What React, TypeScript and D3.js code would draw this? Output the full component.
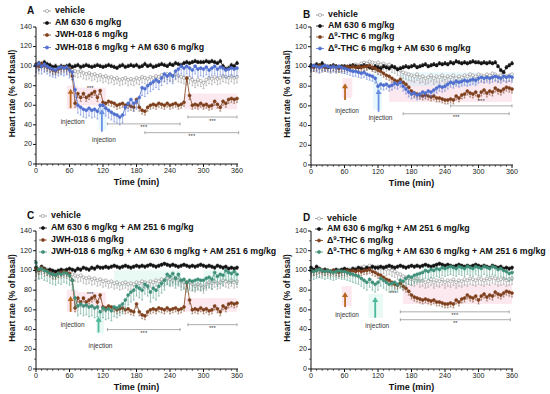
import React from 'react';
import * as d3 from 'd3';

// sampling times (min), one point every 5 min
const TIMES = d3.range(0, 365, 5);

// heart rate, % of basal
const vehicleJwh = [
  100, 98, 102, 100, 101, 99, 97, 98, 99, 98, 99, 98,
  97, 96, 95, 94, 95, 93, 92, 93, 91, 92, 90, 91,
  89, 90, 88, 89, 87, 88, 86, 87, 88, 86, 87, 86,
  88, 87, 89, 88, 87, 89, 88, 90, 89, 91, 90, 92,
  91, 90, 92, 90, 89, 88, 87, 88, 86, 84, 86, 85,
  83, 86, 88, 87, 89, 87, 88, 90, 89, 88, 90, 88,
  89,
];
const vehicleThc = [
  100, 101, 100, 99, 100, 101, 100, 99, 100, 99, 100, 99,
  99, 100, 101, 100, 102, 101, 103, 104, 103, 105, 104, 103,
  104, 102, 103, 101, 102, 100, 99, 97, 96, 94, 93, 92,
  91, 90, 92, 89, 90, 88, 89, 91, 88, 90, 89, 91,
  88, 90, 89, 91, 88, 90, 89, 91, 90, 92, 91, 90,
  92, 91, 90, 92, 91, 93, 92, 90, 91, 92, 90, 91,
  92,
];
const am630A = [
  101, 103, 100, 104, 102, 101, 99, 100, 98, 100, 99, 100,
  101, 99, 100, 101, 99, 100, 101, 100, 99, 100, 101, 100,
  99, 100, 101, 100, 99, 98, 100, 101, 99, 100, 101, 100,
  101, 99, 100, 102, 100, 101, 99, 100, 101, 102, 101, 100,
  102, 101, 103, 102, 101, 103, 104, 103, 104, 105, 104, 104,
  104, 105, 104, 105, 104, 103, 105, 100, 97, 98, 101, 100,
  103,
];
const am630B = [
  101, 100, 102, 101, 103, 100, 99, 100, 101, 100, 99, 100,
  100, 99, 100, 101, 100, 99, 100, 101, 100, 99, 98, 100,
  99, 98, 100, 99, 98, 100, 99, 97, 98, 99, 100, 99,
  100, 101, 99, 100, 101, 102, 100, 101, 102, 101, 103, 102,
  103, 102, 104, 103, 105, 104, 103, 104, 103, 104, 105, 104,
  104, 103, 104, 103, 104, 103, 104, 100, 96, 94, 99, 101,
  103,
];
const am630Am251 = [
  103, 101, 104, 102, 100, 101, 100, 99, 100, 101, 100, 101,
  102, 101, 100, 102, 101, 103, 102, 101, 103, 102, 104, 103,
  103, 104, 103, 104, 105, 104, 103, 104, 105, 104, 103, 104,
  105, 104, 105, 104, 105, 106, 105, 104, 105, 106, 107, 106,
  105, 106, 105, 104, 105, 106, 105, 104, 105, 104, 105, 106,
  105, 104, 105, 104, 103, 105, 104, 103, 104, 102, 103, 102,
  103,
];
const jwh018 = [
  102, 100, 103, 101, 99, 98, 96, 95, 97, 98, 99, 98,
  97, 90, 62, 72, 68, 72, 68, 70, 72, 74, 68, 75,
  63, 62, 64, 63, 62, 60, 61, 62, 60, 61, 59, 58,
  66, 58, 55, 54, 58, 60, 61, 60, 62, 61, 60, 62,
  60, 61, 62, 60, 61, 63, 88, 70, 60, 61, 60, 62,
  60, 61, 59, 60, 64, 61, 58, 64, 62, 66, 67, 66,
  67,
];
const thc = [
  100, 99, 100, 101, 100, 99, 100, 99, 100, 99, 98, 99,
  99, 100, 99, 100, 99, 100, 99, 100, 100, 101, 99, 98,
  96, 95, 93, 91, 90, 88, 86, 85, 87, 84, 82, 79,
  75, 73, 72, 71, 70, 71, 70, 69, 70, 68, 68, 67,
  66, 66, 67, 66, 70, 68, 71, 72, 75, 73, 72, 74,
  70, 74, 76, 73, 75, 74, 78, 76, 75, 77, 79, 78,
  77,
];
const jwhAm630 = [
  101, 103, 100, 102, 100, 98, 97, 96, 98, 99, 98, 99,
  96, 94, 76, 60, 58, 56, 55, 57, 55, 56, 54, 60,
  60, 57, 55, 53, 51, 50, 48, 50, 58, 62, 66, 62,
  64, 68, 78, 77, 80, 82, 84, 86, 84, 88, 92, 90,
  92, 90, 95, 97, 100, 98, 100, 98, 96, 100, 97, 98,
  97, 99, 96, 98, 100, 97, 99, 98, 96, 97, 98, 97,
  98,
];
const thcAm630 = [
  100, 101, 100, 99, 100, 101, 100, 99, 100, 99, 100, 99,
  98, 97, 96, 95, 95, 94, 93, 94, 92, 91, 90, 88,
  80, 82, 81, 82, 80, 81, 83, 82, 84, 80, 77, 74,
  72, 73, 71, 72, 74, 73, 75, 74, 76, 78, 80, 79,
  80, 82, 84, 83, 85, 84, 85, 86, 85, 86, 87, 86,
  88, 89, 88, 89, 88, 89, 90, 89, 88, 90, 89, 90,
  89,
];
const jwhAm630Am251 = [
  108, 101, 102, 100, 99, 97, 96, 95, 97, 96, 98, 97,
  95, 90, 72, 64, 66, 64, 65, 63, 64, 62, 63, 58,
  62, 60, 61, 59, 63, 62, 64, 66, 70, 75, 78, 80,
  84, 82, 80, 86, 84, 78, 82, 80, 84, 87, 90, 96,
  94, 97, 92, 96, 90, 91, 88, 90, 89, 90, 91, 90,
  90, 92, 93, 91, 98, 94, 96, 95, 100, 98, 97, 99,
  96,
];
const thcAm630Am251 = [
  100, 99, 100, 101, 100, 99, 100, 99, 98, 99, 100, 99,
  99, 98, 97, 96, 95, 94, 92, 90, 88, 91, 88, 86,
  88, 92, 90, 88, 86, 87, 88, 86, 90, 89, 92, 94,
  93, 95, 96, 97, 98, 100, 99, 101, 100, 102, 101, 103,
  102, 103, 104, 103, 102, 104, 103, 102, 104, 103, 102, 104,
  103, 102, 104, 103, 102, 104, 103, 101, 102, 100, 99, 97,
  98,
];

// SEM per series (one-sided bars)
const semVehicle = 6;
const semAntagonist = 2;
const semAgonist = 4;
const semCombo = 8;

const yTicks = [0, 20, 40, 60, 80, 100, 120, 140];
const xTicks = [0, 60, 120, 180, 240, 300, 360];

const C = {
  vehicle: '#8a8a8a',
  black: '#111111',
  brown: '#7d3f1c',
  blue: '#4f6fd0',
  teal: '#3f907a',
  orangeArrow: '#b8661f',
  blueArrow: '#6a90e4',
  tealArrow: '#4db89c',
  pink: '#f6c6d6',
  cyan: '#c6ecf6',
  mint: '#c4eee2',
};

const panels = [
  {
    letter: 'A', x0: 36, x1: 237, yb: 164, yt: 27, letterX: 27, textX: 55, markX: 47,
    legendY: [11, 23, 35, 47.5],
    series: [
      { name: 'vehicle', data: vehicleJwh, color: C.vehicle, open: true, sem: semVehicle, dir: -1 },
      { name: 'AM 630 6 mg/kg', data: am630A, color: C.black, sem: semAntagonist, dir: 1 },
      { name: 'JWH-018 6 mg/kg', data: jwh018, color: C.brown, sem: semAgonist, dir: -1 },
      { name: 'JWH-018 6 mg/kg + AM 630 6 mg/kg', data: jwhAm630, color: C.blue, sem: semCombo, dir: -1 },
    ],
    shades: [[55, 75, 56, 80, C.pink], [75, 125, 60, 78, C.pink], [265, 360, 56, 72, C.pink], [112, 126, 35, 60, C.cyan]],
    arrows: [{ t: 62, v0: 57, v1: 77, lv: 43, color: C.orangeArrow }, { t: 118, v0: 33, v1: 56, lv: 24, color: C.blueArrow }],
    bars: [[128, 258, 41, 37, '***'], [195, 363, 32, 28, '***'], [272, 360, 48, 44, '***']],
    stars: [[97, 77, '***']],
  },
  {
    letter: 'B', x0: 311, x1: 512, yb: 165, yt: 27, letterX: 303, textX: 328, markX: 320,
    legendY: [15, 26, 37, 48.5],
    series: [
      { name: 'vehicle', data: vehicleThc, color: C.vehicle, open: true, sem: semVehicle, dir: -1 },
      { name: 'AM 630 6 mg/kg', data: am630B, color: C.black, sem: semAntagonist, dir: 1 },
      { name: '-THC 6 mg/kg', delta: true, data: thc, color: C.brown, sem: semAgonist, dir: -1 },
      { name: '-THC  6 mg/kg + AM 630 6 mg/kg', delta: true, data: thcAm630, color: C.blue, sem: 5, dir: -1 },
    ],
    shades: [[56, 74, 68, 88, C.pink], [140, 360, 64, 86, C.pink], [111, 127, 56, 96, C.cyan], [160, 300, 80, 94, C.cyan]],
    arrows: [{ t: 61, v0: 66, v1: 83, lv: 54, color: C.orangeArrow }, { t: 121, v0: 54, v1: 77, lv: 47, color: C.blueArrow }],
    bars: [[250, 360, 60, 64, '***'], [165, 355, 52, 48, '***']],
    stars: [],
  },
  {
    letter: 'C', x0: 36, x1: 237, yb: 369, yt: 231, letterX: 27, textX: 51, markX: 43,
    legendY: [216, 228, 240, 252],
    series: [
      { name: 'vehicle', data: vehicleJwh, color: C.vehicle, open: true, sem: semVehicle, dir: -1 },
      { name: 'AM 630 6 mg/kg + AM 251 6 mg/kg', data: am630Am251, color: C.black, sem: semAntagonist, dir: -1 },
      { name: 'JWH-018 6 mg/kg', data: jwh018, color: C.brown, sem: semAgonist, dir: -1 },
      { name: 'JWH-018 6 mg/kg + AM 630 6 mg/kg + AM 251 6 mg/kg', data: jwhAm630Am251, color: C.teal, sem: 10, dir: -1 },
    ],
    shades: [[55, 75, 58, 80, C.pink], [75, 125, 62, 78, C.pink], [265, 360, 58, 72, C.pink], [108, 122, 36, 58, C.mint], [140, 260, 84, 100, C.mint], [300, 360, 90, 100, C.mint]],
    arrows: [{ t: 62, v0: 58, v1: 74, lv: 44, color: C.orangeArrow }, { t: 112, v0: 37, v1: 53, lv: 23, color: C.tealArrow }],
    bars: [[128, 258, 40, 36, '***'], [272, 360, 45, 41, '***']],
    stars: [[97, 76, '***']],
  },
  {
    letter: 'D', x0: 311, x1: 512, yb: 369, yt: 231, letterX: 303, textX: 327, markX: 319,
    legendY: [218.5, 229, 240.5, 252],
    series: [
      { name: 'vehicle', data: vehicleThc, color: C.vehicle, open: true, sem: semVehicle, dir: -1 },
      { name: 'AM 630 6 mg/kg + AM 251 6 mg/kg', data: am630Am251, color: C.black, sem: semAntagonist, dir: -1 },
      { name: '-THC 6 mg/kg', delta: true, data: thc, color: C.brown, sem: semAgonist, dir: -1 },
      { name: '-THC  6 mg/kg + AM 630 6 mg/kg + AM 251 6 mg/kg', delta: true, data: thcAm630Am251, color: C.teal, sem: semCombo, dir: -1 },
    ],
    shades: [[55, 73, 64, 84, C.pink], [165, 360, 66, 86, C.pink], [103, 129, 52, 76, C.mint], [200, 300, 98, 106, C.mint]],
    arrows: [{ t: 61, v0: 63, v1: 78, lv: 54, color: C.orangeArrow }, { t: 115, v0: 52, v1: 73, lv: 43, color: C.tealArrow }],
    bars: [[160, 355, 58, 54, '***'], [160, 357, 50, 46, '**']],
    stars: [[147, 77, '***']],
  },
];

const FONT = '"Liberation Sans", Arial, Helvetica, sans-serif';

function Label({ s }: { s: any }) {
  if (!s.delta) return <>{s.name}</>;
  return (
    <>
      Δ<tspan dy={-3} fontSize={6}>9</tspan>
      <tspan dy={3}>{s.name}</tspan>
    </>
  );
}

function Panel({ p }: { p: any }) {
  const x = d3.scaleLinear().domain([0, 360]).range([p.x0, p.x1]);
  const y = d3.scaleLinear().domain([0, 140]).range([p.yb, p.yt]);
  const line = d3.line<number>().x((_, i) => x(TIMES[i])).y((d) => y(d));
  const minorX = d3.range(0, 361, 10).filter((t) => t % 60 !== 0);
  const minorY = d3.range(0, 141, 10).filter((v) => v % 20 !== 0);

  return (
    <g fontFamily={FONT}>
      {p.shades.map((s: any, i: number) => (
        <rect key={i} x={x(s[0])} y={y(s[3])} width={x(s[1]) - x(s[0])} height={y(s[2]) - y(s[3])}
          fill={s[4]} opacity={0.38} />
      ))}

      {p.series.map((s: any, si: number) => (
        <g key={si}>
          {s.data.map((v: number, i: number) => {
            const ye = y(v + s.dir * s.sem);
            return (
              <g key={i} stroke={s.color} strokeWidth={0.5}>
                <line x1={x(TIMES[i])} x2={x(TIMES[i])} y1={y(v)} y2={ye} />
                <line x1={x(TIMES[i]) - 1} x2={x(TIMES[i]) + 1} y1={ye} y2={ye} />
              </g>
            );
          })}
          <path d={line(s.data) || ''} fill="none" stroke={s.color} strokeWidth={0.8} />
          {s.data.map((v: number, i: number) => (
            <circle key={i} cx={x(TIMES[i])} cy={y(v)} r={1.5}
              fill={s.open ? '#fff' : s.color} stroke={s.color} strokeWidth={0.6} />
          ))}
        </g>
      ))}

      {p.arrows.map((a: any, i: number) => (
        <g key={i}>
          <line x1={x(a.t)} x2={x(a.t)} y1={y(a.v0)} y2={y(a.v1) + 4} stroke={a.color} strokeWidth={1.8} />
          <path d={`M${x(a.t) - 3},${y(a.v1) + 5}L${x(a.t)},${y(a.v1)}L${x(a.t) + 3},${y(a.v1) + 5}Z`} fill={a.color} />
          <text x={x(a.t) + 2} y={y(a.lv)} fontSize={6.5} textAnchor="middle" dominantBaseline="middle" fill="#333">
            injection
          </text>
        </g>
      ))}

      {p.bars.map((b: any, i: number) => (
        <g key={i} stroke="#8a8a8a" strokeWidth={0.7}>
          <line x1={x(b[0])} x2={x(b[1])} y1={y(b[2])} y2={y(b[2])} />
          <line x1={x(b[0])} x2={x(b[0])} y1={y(b[2]) - 1.5} y2={y(b[2]) + 1.5} />
          <line x1={x(b[1])} x2={x(b[1])} y1={y(b[2]) - 1.5} y2={y(b[2]) + 1.5} />
          <text x={x((b[0] + b[1]) / 2)} y={y(b[3])} stroke="none" fill="#444" fontSize={6}
            textAnchor="middle" dominantBaseline="middle">{b[4]}</text>
        </g>
      ))}
      {p.stars.map((s: any, i: number) => (
        <text key={i} x={x(s[0])} y={y(s[1])} fill="#333" fontSize={6} textAnchor="middle" dominantBaseline="middle">{s[2]}</text>
      ))}

      {/* axes */}
      <g stroke="#111" strokeWidth={1}>
        <line x1={p.x0} x2={p.x0} y1={p.yt} y2={p.yb} />
        <line x1={p.x0} x2={p.x1 + 1} y1={p.yb} y2={p.yb} />
        {yTicks.map((v) => <line key={v} x1={p.x0 - 3} x2={p.x0} y1={y(v)} y2={y(v)} />)}
        {minorY.map((v) => <line key={v} x1={p.x0 - 1.8} x2={p.x0} y1={y(v)} y2={y(v)} strokeWidth={0.7} />)}
        {xTicks.map((t) => <line key={t} x1={x(t)} x2={x(t)} y1={p.yb} y2={p.yb + 3} />)}
        {minorX.map((t) => <line key={t} x1={x(t)} x2={x(t)} y1={p.yb} y2={p.yb + 1.8} strokeWidth={0.7} />)}
      </g>
      {yTicks.map((v) => (
        <text key={v} x={p.x0 - 4} y={y(v)} fontSize={7.2} textAnchor="end" dominantBaseline="middle" fill="#222">{v}</text>
      ))}
      {xTicks.map((t) => (
        <text key={t} x={x(t)} y={p.yb + 9} fontSize={7.2} textAnchor="middle" fill="#222">{t}</text>
      ))}
      <text x={(p.x0 + p.x1) / 2} y={p.yb + 21} fontSize={9} fontWeight="bold" textAnchor="middle" fill="#111">
        Time (min)
      </text>
      <text transform={`translate(${p.x0 - 21},${y(72)}) rotate(-90)`} fontSize={8.3} fontWeight="bold"
        textAnchor="middle" fill="#111">Heart rate (% of basal)</text>

      {/* legend */}
      <text x={p.letterX} y={p.legendY[0]} fontSize={10} fontWeight="bold" dominantBaseline="middle" fill="#111">
        {p.letter}
      </text>
      {p.series.map((s: any, i: number) => (
        <g key={i}>
          <line x1={p.markX - 4} x2={p.markX + 4} y1={p.legendY[i]} y2={p.legendY[i]} stroke={s.color} strokeWidth={0.8} />
          <circle cx={p.markX} cy={p.legendY[i]} r={1.6} fill={s.open ? '#fff' : s.color} stroke={s.color} strokeWidth={0.6} />
          <text x={p.textX} y={p.legendY[i]} fontSize={8.8} fontWeight="bold" dominantBaseline="middle" fill="#111">
            <Label s={s} />
          </text>
        </g>
      ))}
    </g>
  );
}

export default function App() {
  return (
    <svg width={550} height={394} style={{ position: 'absolute', left: 0, top: 0, background: '#fff' }}>
      <rect width={550} height={394} fill="#fff" />
      {panels.map((p) => <Panel key={p.letter} p={p} />)}
    </svg>
  );
}
